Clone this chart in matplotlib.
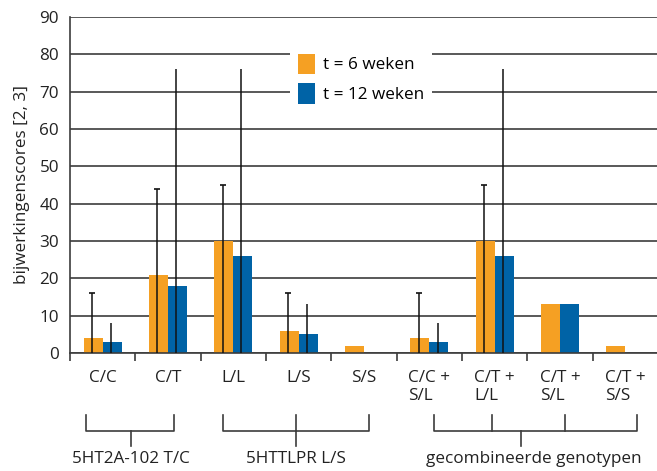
import matplotlib
matplotlib.use("Agg")
import matplotlib.pyplot as plt
import matplotlib.transforms as mtransforms
import numpy as np

plt.rcParams['font.family'] = ['Open Sans', 'DejaVu Sans']

categories = ['C/C', 'C/T', 'L/L', 'L/S', 'S/S',
              'C/C +\nS/L', 'C/T +\nL/L', 'C/T +\nS/L', 'C/T +\nS/S']
week6 = [4, 21, 30, 5.8, 2, 4, 30, 13, 2]
week12 = [3, 18, 26, 5, 0, 3, 26, 13, 0]
# upper end of the range lines (None = no line)
week6_max = [16, 44, 45, 16, None, 16, 45, None, None]
week12_max = [8, 76, 76, 13, None, 8, 76, None, None]

groups = ['5HT2A-102 T/C', '5HTTLPR L/S', 'gecombineerde genotypen']

orange = '#F5A023'
blue = '#0063A6'
grid_c = '#3c3c3c'
txt_c = '#222222'
fs = 12.3

fig = plt.figure(figsize=(6.57, 4.71), dpi=100)
ax = fig.add_axes([70/657, 1-353/471, 588/657, 336/471])

x = np.arange(len(categories))
w = 0.29
ax.bar(x - w/2, week6, width=w, color=orange, label='t = 6 weken', zorder=2)
ax.bar(x + w/2, week12, width=w, color=blue, label='t = 12 weken', zorder=2)

# range lines from 0 to max, orange ones with a cap on top
for xs, tops, cap in [(x - w/2 - 0.02, week6_max, True), (x + w/2 - 0.02, week12_max, False)]:
    idx = [i for i, t in enumerate(tops) if t is not None]
    xv = [xs[i] for i in idx]
    tv = [tops[i] for i in idx]
    ax.vlines(xv, 0, tv, color='#111111', lw=1.1, zorder=3)
    if cap:
        ax.plot(xv, tv, ls='none', marker='_', ms=5, mew=1.2, color='#111111', zorder=3)

ax.set_xlim(-0.5, len(categories) - 0.5)
ax.set_ylim(0, 90)
ax.set_yticks(range(0, 91, 10))
ax.yaxis.grid(True, color=grid_c, lw=1.2, zorder=0)
ax.set_axisbelow(True)
ax.tick_params(axis='y', length=0, pad=8, labelsize=fs, colors=txt_c)

ax.set_xticks(x)
ax.set_xticklabels(categories, fontsize=fs, multialignment='left', color=txt_c)
ax.set_xticks(np.arange(-0.5, len(categories), 1), minor=True)
ax.tick_params(axis='x', which='major', length=0, pad=12)
ax.tick_params(axis='x', which='minor', length=6, width=1.2, color=grid_c)

for s in ['top', 'right']:
    ax.spines[s].set_visible(False)
for s in ['left', 'bottom']:
    ax.spines[s].set_color(grid_c)
    ax.spines[s].set_linewidth(1.2)

ax.set_ylabel('bijwerkingenscores [2, 3]', fontsize=fs, color=txt_c, labelpad=7)

leg = ax.legend(loc='upper left', bbox_to_anchor=(220/588, 1-29/336), frameon=True,
                fontsize=fs, handlelength=1.0, handleheight=1.45, handletextpad=0.5,
                labelspacing=0.55, borderpad=0.45, borderaxespad=0)
leg.get_frame().set_facecolor('white')
leg.get_frame().set_edgecolor('none')
leg.get_frame().set_alpha(1)

# group brackets below the axis (x in category units, y in figure pixels)
tr = mtransforms.blended_transform_factory(ax.transData, fig.transFigure)
def fy(py):
    return 1 - py/471

def px2x(px):
    return (px - 70) / 588 * 9 - 0.5

brackets = [
    (86, 174, [], 131),
    (223, 369, [296], 296),
    (434, 637, [492, 565], 521),
]
label_cx = [131, 296, 534]
for gi, (left, right, inner, center) in enumerate(brackets):
    xl, xr = px2x(left), px2x(right)
    ax.plot([xl, xl, xr, xr], [fy(415), fy(431), fy(431), fy(415)], color=grid_c,
            lw=1.2, transform=tr, clip_on=False)
    for p in inner:
        ax.plot([px2x(p)] * 2, [fy(415), fy(431)], color=grid_c, lw=1.2,
                transform=tr, clip_on=False)
    ax.plot([px2x(center)] * 2, [fy(431), fy(446)], color=grid_c, lw=1.2,
            transform=tr, clip_on=False)
    ax.text(px2x(label_cx[gi]), fy(459), groups[gi], transform=tr, ha='center',
            va='center', fontsize=fs, color=txt_c)

fig.savefig('out.png', dpi=100)
